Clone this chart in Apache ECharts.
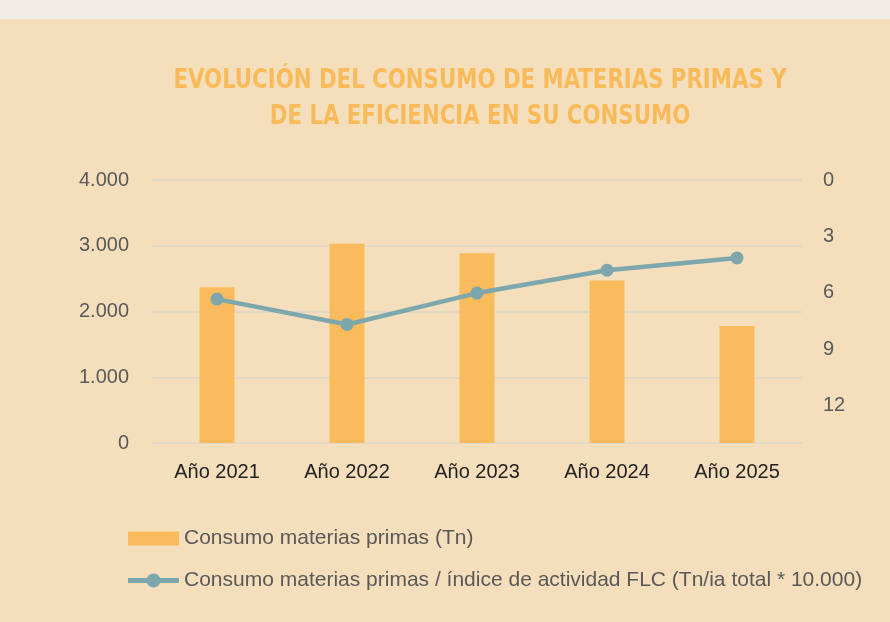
<!DOCTYPE html>
<html>
<head>
<meta charset="utf-8">
<script src="https://cdn.jsdelivr.net/npm/echarts@6/dist/echarts.min.js"></script>
<style>
html,body{margin:0;padding:0;background:#F5DEBB;}
#topStrip{position:absolute;left:0;top:0;width:890px;height:19px;background:#F1EDE6;}
#chartsDiv{position:absolute;left:0;top:0;width:890px;height:622px;}
</style>
</head>
<body>
<div id="chartsDiv"></div>
<div id="topStrip"></div>
<script>
// datos
var categorias = ['Año 2021', 'Año 2022', 'Año 2023', 'Año 2024', 'Año 2025'];
var consumoTn = [2369, 3029, 2887, 2470, 1779];
var eficiencia = [6.34, 7.69, 6.02, 4.80, 4.15];
var nombreBarras = 'Consumo materias primas (Tn)';
var nombreLinea = 'Consumo materias primas / índice de actividad FLC (Tn/ia total * 10.000)';
var tituloLineas = ['EVOLUCIÓN DEL CONSUMO DE MATERIAS PRIMAS Y', 'DE LA EFICIENCIA EN SU CONSUMO'];

var fuente = '"Liberation Sans", Arial, sans-serif';
// icono de leyenda: linea gruesa con circulo
var iconoLinea = 'path://M0,5H51V10H0Z M18.5,7.5A7,7 0 1,1 32.5,7.5A7,7 0 1,1 18.5,7.5Z';

function miles(v){
	// separador de miles con punto
	return String(v).replace(/\B(?=(\d{3})+(?!\d))/g, '.');
}

var chart = echarts.init(document.getElementById('chartsDiv'));
var opt = {
	backgroundColor: '#F5DEBB',
	animation: false,
	graphic: [{
		type: 'text',
		x: 480,
		y: 63,
		scaleX: 0.876,
		style: {
			text: tituloLineas.join('\n'),
			x: 0,
			y: 0,
			textAlign: 'center',
			textVerticalAlign: 'top',
			fill: '#F9BB5A',
			font: 'bold 27px "DejaVu Sans Condensed", sans-serif',
			lineHeight: 36
		}
	}],
	legend: {
		orient: 'vertical',
		left: 123,
		top: 523,
		itemGap: 21,
		itemWidth: 51,
		itemHeight: 14,
		textStyle: { color: '#595959', fontSize: 21, fontFamily: fuente },
		data: [
			{ name: nombreBarras, icon: 'rect', itemStyle: { color: '#F9BB5C' } },
			{ name: nombreLinea, icon: iconoLinea, itemStyle: { color: '#7BA7AD', borderWidth: 0 } }
		]
	},
	grid: { left: 152, right: 88, top: 180, bottom: 179 },
	xAxis: [{
		type: 'category',
		data: categorias,
		axisLine: { show: false },
		axisTick: { show: false },
		axisLabel: { color: '#222222', fontSize: 20, fontFamily: fuente, margin: 19 }
	}],
	yAxis: [{
		type: 'value',
		min: 0,
		max: 4000,
		interval: 1000,
		axisLine: { show: false },
		axisTick: { show: false },
		axisLabel: { color: '#595959', fontSize: 20, fontFamily: fuente, margin: 23, formatter: miles },
		splitLine: { lineStyle: { color: '#E2D8C8', width: 2 } }
	}, {
		type: 'value',
		inverse: true,
		min: 0,
		max: 14,
		interval: 3,
		axisLine: { show: false },
		axisTick: { show: false },
		splitLine: { show: false },
		axisLabel: { color: '#595959', fontSize: 20, fontFamily: fuente, margin: 21, showMaxLabel: false }
	}],
	series: [{
		name: nombreBarras,
		type: 'bar',
		barWidth: 35,
		itemStyle: { color: '#F9BB5C' },
		data: consumoTn
	}, {
		name: nombreLinea,
		type: 'line',
		yAxisIndex: 1,
		symbol: 'circle',
		symbolSize: 13,
		lineStyle: { color: '#7BA7AD', width: 4.5 },
		itemStyle: { color: '#7BA7AD' },
		data: eficiencia
	}]
};
chart.setOption(opt);
</script>
</body>
</html>
